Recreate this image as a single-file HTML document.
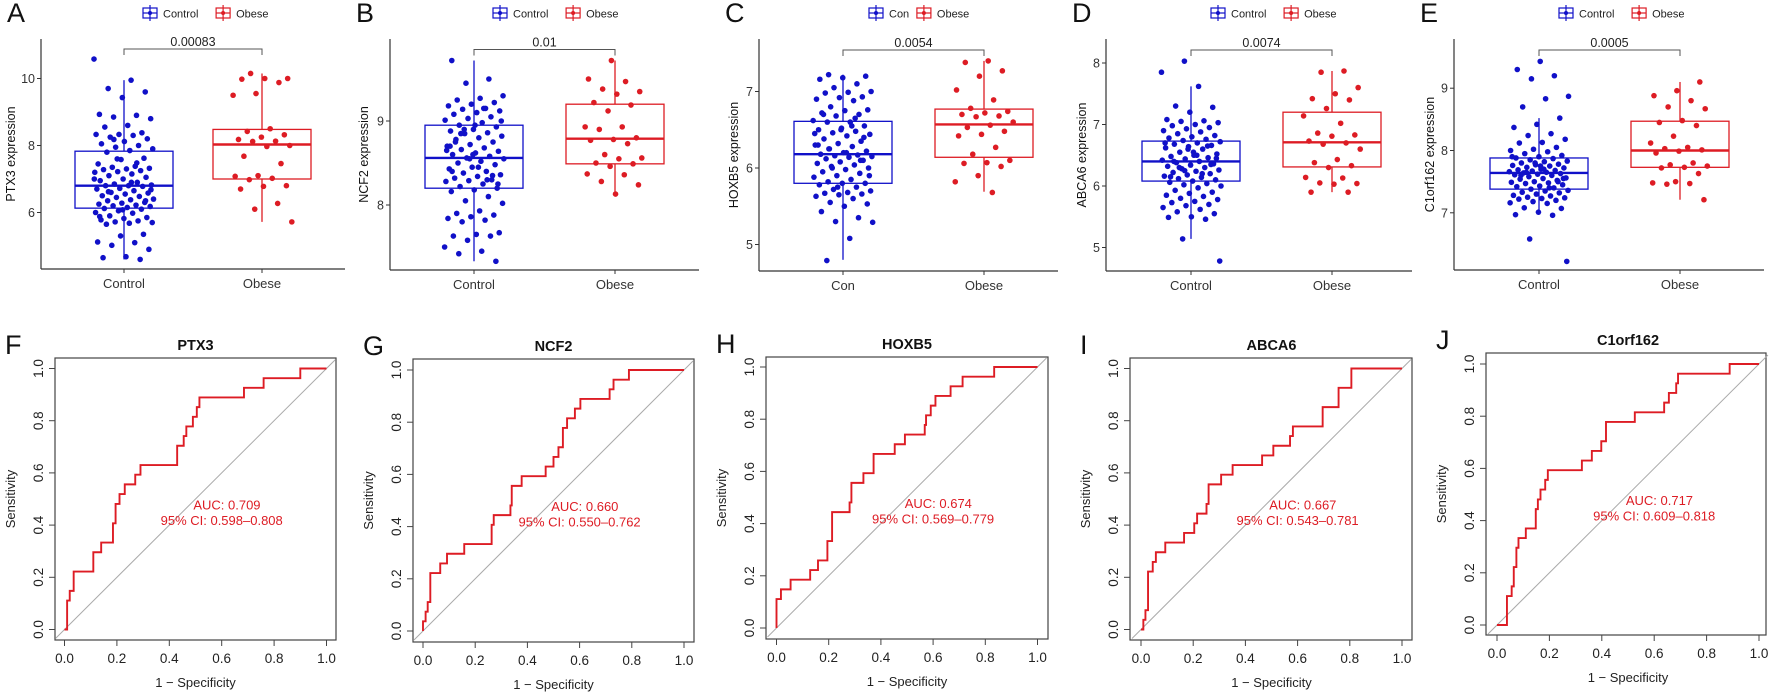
<!DOCTYPE html>
<html><head><meta charset="utf-8"><style>
html,body{margin:0;padding:0;background:#fff;}
svg{display:block;font-family:"Liberation Sans",sans-serif;}
</style></head><body>
<svg id="fig" width="1772" height="697" viewBox="0 0 1772 697"></svg>
<script>
// ---------- Box plot data ----------
const groupNamesA = ["Control","Obese"];
const groupNamesC = ["Con","Obese"];
const genes = ["PTX3","NCF2","HOXB5","ABCA6","C1orf162"];
const pValues = ["0.00083","0.01","0.0054","0.0074","0.0005"];
const yTicksA = [6,8,10], yTicksB = [8,9], yTicksC = [5,6,7], yTicksD = [5,6,7,8], yTicksE = [7,8,9];
// box stats: [whiskerLow, q1, median, q3, whiskerHigh]
const statsCtrlA=[4.6,6.13,6.8,7.83,9.95], statsObA=[5.72,7.0,8.03,8.48,10.15];
const statsCtrlB=[7.33,8.2,8.56,8.95,9.72], statsObB=[8.13,8.49,8.79,9.2,9.72];
const statsCtrlC=[4.8,5.8,6.18,6.61,7.22], statsObC=[5.69,6.14,6.57,6.77,7.4];
const statsCtrlD=[5.14,6.08,6.4,6.73,7.62], statsObD=[5.9,6.31,6.71,7.2,7.87];
const statsCtrlE=[6.97,7.38,7.64,7.88,8.52], statsObE=[7.21,7.73,8.0,8.47,9.1];
const ctrlA=[10.58,9.95,9.7,9.6,9.43,8.93,8.9,8.85,8.8,8.6,8.55,8.38,8.33,8.33,8.3,8.25,8.2,8.12,8.05,8.0,7.95,7.9,7.85,7.8,7.62,7.58,7.45,7.38,7.35,7.32,7.3,7.28,7.25,7.22,7.2,7.15,7.1,7.05,7.0,6.95,6.9,6.85,6.82,6.8,6.8,6.78,6.72,6.7,6.65,6.6,6.58,6.55,6.5,6.48,6.45,6.4,6.38,6.35,6.3,6.28,6.25,6.22,6.2,6.18,6.15,6.12,6.1,6.05,6.0,5.98,5.9,5.85,5.82,5.78,5.75,5.72,5.7,5.68,5.65,5.35,5.3,5.12,5.1,5.02,4.9,4.68,4.65,4.6,7.6,7.0,6.9,6.62,6.35,6.08,5.88,7.48,8.18,6.68];
const obA=[10.15,10.0,10.0,9.98,9.88,9.55,9.5,8.5,8.42,8.32,8.25,8.18,8.13,8.12,8.0,7.97,7.68,7.46,7.1,7.08,7.02,6.98,6.8,6.78,6.7,6.27,6.1,5.72];
const ctrlB=[9.72,9.5,9.45,9.3,9.27,9.25,9.22,9.2,9.18,9.15,9.14,9.12,9.1,9.08,9.05,9.03,9.01,8.98,8.95,8.93,8.9,8.88,8.86,8.85,8.82,8.8,8.78,8.75,8.72,8.7,8.68,8.66,8.64,8.62,8.6,8.58,8.56,8.55,8.52,8.5,8.48,8.45,8.43,8.4,8.38,8.36,8.34,8.32,8.3,8.29,8.28,8.25,8.22,8.2,8.18,8.16,8.1,8.05,8.02,7.93,7.9,7.88,7.86,7.84,7.82,7.8,7.67,7.65,7.63,7.63,7.58,7.5,7.45,7.42,7.33,8.6,8.7,8.3,8.9,9.0,8.45,8.75,8.35,8.55,8.65,9.15,8.85,8.25,8.95,8.4];
const obB=[9.72,9.5,9.47,9.38,9.35,9.32,9.22,9.19,9.12,8.93,8.93,8.9,8.8,8.78,8.77,8.73,8.6,8.56,8.55,8.5,8.49,8.46,8.37,8.36,8.28,8.24,8.13];
const ctrlC=[7.22,7.2,7.18,7.16,7.1,7.05,7.0,6.99,6.98,6.93,6.92,6.9,6.88,6.8,6.76,6.75,6.72,6.7,6.68,6.62,6.6,6.6,6.55,6.52,6.5,6.48,6.46,6.44,6.42,6.38,6.35,6.32,6.3,6.28,6.25,6.22,6.2,6.18,6.17,6.16,6.15,6.14,6.12,6.1,6.08,6.06,6.04,6.02,6.0,5.98,5.95,5.93,5.9,5.88,5.85,5.82,5.8,5.8,5.78,5.75,5.72,5.7,5.68,5.67,5.66,5.65,5.63,5.6,5.55,5.53,5.5,5.43,5.35,5.3,5.29,5.08,4.79,6.4,6.5,6.3,6.65,6.0,5.9,6.2,6.7,6.1,5.75,6.45,6.55,6.25];
const obC=[7.4,7.38,7.27,7.2,7.02,6.89,6.78,6.74,6.72,6.7,6.68,6.67,6.6,6.56,6.53,6.48,6.44,6.42,6.27,6.18,6.1,6.07,6.06,6.02,5.9,5.82,5.68];
const ctrlD=[8.03,7.85,7.62,7.3,7.28,7.2,7.08,7.06,7.05,7.03,7.0,6.98,6.95,6.93,6.9,6.88,6.85,6.82,6.8,6.78,6.76,6.74,6.72,6.7,6.68,6.66,6.64,6.62,6.6,6.55,6.52,6.5,6.48,6.46,6.44,6.42,6.4,6.38,6.36,6.34,6.32,6.3,6.28,6.26,6.24,6.22,6.2,6.18,6.16,6.14,6.12,6.1,6.08,6.06,6.04,6.02,6.0,5.97,5.93,5.9,5.88,5.85,5.83,5.8,5.78,5.75,5.73,5.7,5.68,5.65,5.62,5.58,5.55,5.5,5.49,5.46,5.14,4.78,6.5,6.4,6.35,6.6,6.7,6.2,6.3,6.45,6.55,6.15,6.65,6.25];
const obD=[7.87,7.85,7.6,7.5,7.42,7.4,7.26,7.14,7.02,6.86,6.83,6.81,6.73,6.7,6.68,6.6,6.43,6.38,6.33,6.3,6.14,6.13,6.05,6.04,6.03,5.9,5.9];
const ctrlE=[9.43,9.3,9.2,9.15,8.87,8.83,8.7,8.52,8.42,8.37,8.27,8.24,8.18,8.13,8.12,8.05,8.02,8.0,7.98,7.95,7.92,7.9,7.88,7.87,7.85,7.83,7.82,7.8,7.78,7.77,7.76,7.75,7.73,7.72,7.7,7.69,7.68,7.67,7.66,7.65,7.64,7.63,7.62,7.61,7.6,7.58,7.56,7.55,7.54,7.52,7.5,7.49,7.48,7.47,7.45,7.43,7.42,7.4,7.38,7.36,7.35,7.33,7.32,7.3,7.28,7.27,7.25,7.24,7.23,7.22,7.2,7.18,7.16,7.15,7.08,7.07,7.01,6.97,6.96,6.58,6.22,7.7,7.6,7.5,7.8,7.9,7.4,7.65,7.55,7.75];
const obE=[9.1,8.96,8.88,8.8,8.7,8.67,8.48,8.45,8.4,8.23,8.12,8.05,8.03,8.01,7.99,7.96,7.8,7.77,7.75,7.73,7.72,7.63,7.5,7.48,7.47,7.46,7.21];

// ---------- ROC data (step corners: at fpr, sensitivity jumps to tpr) ----------
const aucLabels=["AUC: 0.709","AUC: 0.660","AUC: 0.674","AUC: 0.667","AUC: 0.717"];
const ciLabels=["95% CI: 0.598\u20130.808","95% CI: 0.550\u20130.762","95% CI: 0.569\u20130.779","95% CI: 0.543\u20130.781","95% CI: 0.609\u20130.818"];
const rocTicks=[0,0.2,0.4,0.6,0.8,1.0];
const fprF=[0.01,0.02,0.035,0.11,0.14,0.185,0.195,0.21,0.23,0.27,0.29,0.43,0.455,0.465,0.49,0.505,0.515,0.685,0.76,0.9];
const tprF=[0.111,0.148,0.222,0.296,0.333,0.407,0.481,0.519,0.556,0.593,0.63,0.704,0.741,0.778,0.815,0.852,0.889,0.926,0.963,1];
const fprG=[0,0.01,0.018,0.028,0.066,0.092,0.158,0.263,0.271,0.335,0.34,0.378,0.47,0.5,0.519,0.536,0.552,0.582,0.603,0.715,0.73,0.789];
const tprG=[0.037,0.074,0.111,0.222,0.259,0.296,0.333,0.407,0.444,0.481,0.556,0.593,0.63,0.667,0.704,0.778,0.815,0.852,0.889,0.926,0.963,1];
const fprH=[0,0.017,0.054,0.129,0.159,0.195,0.213,0.280,0.287,0.333,0.372,0.453,0.492,0.568,0.573,0.591,0.609,0.667,0.713,0.834];
const tprH=[0.111,0.148,0.185,0.222,0.259,0.333,0.444,0.481,0.556,0.593,0.667,0.704,0.741,0.778,0.815,0.852,0.889,0.926,0.963,1];
const fprI=[0.009,0.017,0.027,0.045,0.057,0.093,0.165,0.204,0.215,0.251,0.259,0.307,0.351,0.464,0.507,0.571,0.582,0.696,0.757,0.806];
const tprI=[0.037,0.074,0.222,0.259,0.296,0.333,0.37,0.407,0.444,0.481,0.556,0.593,0.63,0.667,0.704,0.741,0.778,0.852,0.926,1];
const fprJ=[0.038,0.056,0.064,0.074,0.082,0.11,0.148,0.156,0.166,0.184,0.194,0.324,0.362,0.398,0.416,0.526,0.638,0.656,0.684,0.691,0.888];
const tprJ=[0.111,0.148,0.222,0.296,0.333,0.37,0.444,0.481,0.519,0.556,0.593,0.63,0.667,0.704,0.778,0.815,0.852,0.889,0.926,0.963,1];

const NS="http://www.w3.org/2000/svg";
const fig=document.getElementById('fig');
function mk(tag,parent,attrs){const e=document.createElementNS(NS,tag);for(const k in attrs)e.setAttribute(k,attrs[k]);parent.appendChild(e);return e;}
function txt(parent,x,y,s,attrs){const t=mk('text',parent,Object.assign({x:x,y:y},attrs));t.textContent=s;return t;}

const BLUE="#1010c8", RED="#dd1c24", AX="#333";

// layout (pixel geometry)
const boxLayout=[
 {letter:"A",ax:41,right:345,top:39,bottom:269,cx:[124,262],ref:8,refY:145.5,ppu:33.5,titleX:15,legX:143,brY:49},
 {letter:"B",ax:390,right:699,top:39,bottom:270,cx:[474,615],ref:9,refY:121,ppu:84,titleX:368,legX:493,brY:49.5},
 {letter:"C",ax:759,right:1058,top:39,bottom:271,cx:[843,984],ref:6,refY:168,ppu:76.5,titleX:738,legX:869,brY:50},
 {letter:"D",ax:1106,right:1412,top:39,bottom:271,cx:[1191,1332],ref:7,refY:124.5,ppu:61.5,titleX:1086,legX:1211,brY:50},
 {letter:"E",ax:1454,right:1764,top:39,bottom:270,cx:[1539,1680],ref:8,refY:150.5,ppu:62.3,titleX:1434,legX:1559,brY:50}
];
const boxData=[
 {ticks:yTicksA,stats:[statsCtrlA,statsObA],pts:[ctrlA,obA],names:groupNamesA},
 {ticks:yTicksB,stats:[statsCtrlB,statsObB],pts:[ctrlB,obB],names:groupNamesA},
 {ticks:yTicksC,stats:[statsCtrlC,statsObC],pts:[ctrlC,obC],names:groupNamesC},
 {ticks:yTicksD,stats:[statsCtrlD,statsObD],pts:[ctrlD,obD],names:groupNamesA},
 {ticks:yTicksE,stats:[statsCtrlE,statsObE],pts:[ctrlE,obE],names:groupNamesA}
];

boxLayout.forEach((L,p)=>{
  const D=boxData[p];
  const g=mk('g',fig,{});
  
  
  const y=v=>L.refY-(v-L.ref)*L.ppu;
  const lt=txt(g,L.ax-34,22,L.letter,{'font-size':27,fill:'#111'});
  
  
  // legend
  const lg=mk('g',g,{});
  
  
  let lx=L.legX;
  D.names.forEach((n,k)=>{
    const col=k?RED:BLUE;
    const ent=mk('g',lg,{});
    
    
    mk('rect',ent,{x:lx,y:8,width:14,height:10,fill:'none',stroke:col,'stroke-width':1.2});
    mk('line',ent,{x1:lx+7,y1:5,x2:lx+7,y2:21,stroke:col,'stroke-width':1.2});
    mk('line',ent,{x1:lx,y1:13,x2:lx+14,y2:13,stroke:col,'stroke-width':1.2});
    mk('circle',ent,{cx:lx+7,cy:13,r:2,fill:col});
    const t=txt(ent,lx+20,17.5,n,{'font-size':11,fill:'#222'});
    lx+=20+(n.length*6.3)+9;
  });
  // axes
  const axg=mk('g',g,{});
  
  
  mk('line',axg,{x1:L.ax,y1:L.top,x2:L.ax,y2:L.bottom,stroke:AX,'stroke-width':1.2});
  mk('line',axg,{x1:L.ax,y1:L.bottom,x2:L.right,y2:L.bottom,stroke:AX,'stroke-width':1.2});
  D.ticks.forEach(v=>{
    mk('line',axg,{x1:L.ax-4,y1:y(v),x2:L.ax,y2:y(v),stroke:AX,'stroke-width':1});
    const t=txt(axg,L.ax-6,y(v)+4.5,String(v),{'font-size':12.5,fill:'#333','text-anchor':'end'});
    
    
  });
  D.names.forEach((n,k)=>{
    mk('line',axg,{x1:L.cx[k],y1:L.bottom,x2:L.cx[k],y2:L.bottom+4,stroke:AX,'stroke-width':1});
    const t=txt(axg,L.cx[k],L.bottom+19,n,{'font-size':13,fill:'#333','text-anchor':'middle'});
    
    
  });
  const midY=(L.top+L.bottom)/2;
  const yt=txt(axg,L.titleX,midY,genes[p]+' expression',{'font-size':12.5,fill:'#111','text-anchor':'middle',transform:'rotate(-90 '+(L.titleX)+' '+midY+')'});
  
  
  // bracket
  const br=mk('path',g,{d:`M${L.cx[0]},${L.brY+6}V${L.brY}H${L.cx[1]}V${L.brY+6}`,fill:'none',stroke:'#555','stroke-width':1});
  
  
  const pt=txt(g,(L.cx[0]+L.cx[1])/2,L.brY-3,pValues[p],{'font-size':12.5,fill:'#222','text-anchor':'middle'});
  
  
  // boxes
  const half=49;
  D.stats.forEach((s,k)=>{
    const col=k?RED:BLUE, cx=L.cx[k];
    const bg=mk('g',g,{});
    
    
    mk('line',bg,{x1:cx,y1:y(s[0]),x2:cx,y2:y(s[1]),stroke:col,'stroke-width':1.3});
    mk('line',bg,{x1:cx,y1:y(s[3]),x2:cx,y2:y(s[4]),stroke:col,'stroke-width':1.3});
    mk('rect',bg,{x:cx-half,y:y(s[3]),width:2*half,height:y(s[1])-y(s[3]),fill:'none',stroke:col,'stroke-width':1.3});
    mk('line',bg,{x1:cx-half,y1:y(s[2]),x2:cx+half,y2:y(s[2]),stroke:col,'stroke-width':2.4});
  });
  D.pts.forEach((arr,k)=>{
    const col=k?RED:BLUE, cx=L.cx[k];
    const pg=mk('g',g,{});
    
    
    arr.forEach((v,i)=>{
      const j=(((i*0.6180339+p*0.13+k*0.31)%1)-0.5)*2*30;
      const c=mk('circle',pg,{cx:cx+j,cy:y(v),r:2.8,fill:col});
      
      
    });
  });
});

// ---------- ROC panels ----------
const rocLayout=[
 {letter:"F",bx0:55,bx1:336,by0:358,by1:640,x0:64.5,x1:326.5,y0:629.5,y1:368.5},
 {letter:"G",bx0:413,bx1:694,by0:359,by1:642,x0:423,x1:684,y0:631,y1:370},
 {letter:"H",bx0:766,bx1:1048,by0:357,by1:639,x0:776.5,x1:1037.5,y0:628,y1:367},
 {letter:"I",bx0:1130,bx1:1412,by0:358,by1:640,x0:1141,x1:1402,y0:629.5,y1:368.5},
 {letter:"J",bx0:1486,bx1:1766,by0:353,by1:635,x0:1497,x1:1759,y0:625,y1:364}
];
const rocData=[[fprF,tprF],[fprG,tprG],[fprH,tprH],[fprI,tprI],[fprJ,tprJ]];
rocLayout.forEach((L,p)=>{
  const g=mk('g',fig,{});
  
  
  const X=v=>L.x0+v*(L.x1-L.x0), Y=v=>L.y0-v*(L.y0-L.y1);
  const lt=txt(g,L.bx0-50,L.by0-4,L.letter,{'font-size':27,fill:'#111'});
  
  
  const tt=txt(g,(L.x0+L.x1)/2,L.by0-8,genes[p],{'font-size':14.5,'font-weight':'bold',fill:'#111','text-anchor':'middle'});
  
  
  const fr=mk('rect',g,{x:L.bx0,y:L.by0,width:L.bx1-L.bx0,height:L.by1-L.by0,fill:'none',stroke:'#444','stroke-width':1.2});
  
  
  rocTicks.forEach(v=>{
    mk('line',g,{x1:X(v),y1:L.by1,x2:X(v),y2:L.by1+6,stroke:'#444','stroke-width':1});
    const a=txt(g,X(v),L.by1+23,v.toFixed(1),{'font-size':13.5,fill:'#222','text-anchor':'middle'});
    
    
    mk('line',g,{x1:L.bx0-6,y1:Y(v),x2:L.bx0,y2:Y(v),stroke:'#444','stroke-width':1});
    const tx=L.bx0-12;
    const b=txt(g,tx,Y(v),v.toFixed(1),{'font-size':13.5,fill:'#222','text-anchor':'middle',transform:`rotate(-90 ${tx} ${Y(v)})`});
    
    
  });
  const xl=txt(g,(L.x0+L.x1)/2,L.by1+47,'1 \u2212 Specificity',{'font-size':13,fill:'#222','text-anchor':'middle'});
  
  
  const sx=L.bx0-40, sy=(L.by0+L.by1)/2;
  const yl=txt(g,sx,sy,'Sensitivity',{'font-size':13,fill:'#222','text-anchor':'middle',transform:`rotate(-90 ${sx} ${sy})`});
  
  
  const dg=mk('line',g,{x1:X(0)-9,y1:Y(0)+9,x2:X(1)+9,y2:Y(1)-9,stroke:'#aaa','stroke-width':1});
  
  
  const [fp,tp]=rocData[p];
  let d=`M${X(0)},${Y(0)}`, cur=0;
  fp.forEach((f,i)=>{d+=`H${X(f)}V${Y(tp[i])}`;cur=tp[i];});
  d+=`H${X(1)}`;
  const rc=mk('path',g,{d:d,fill:'none',stroke:RED,'stroke-width':1.9});
  
  
  const a1=txt(g,X(0.62),Y(0.46),aucLabels[p],{'font-size':13,fill:RED,'text-anchor':'middle'});
  
  
  const a2=txt(g,X(0.6),Y(0.40),ciLabels[p],{'font-size':13,fill:RED,'text-anchor':'middle'});
  
  
});
</script>
</body></html>
